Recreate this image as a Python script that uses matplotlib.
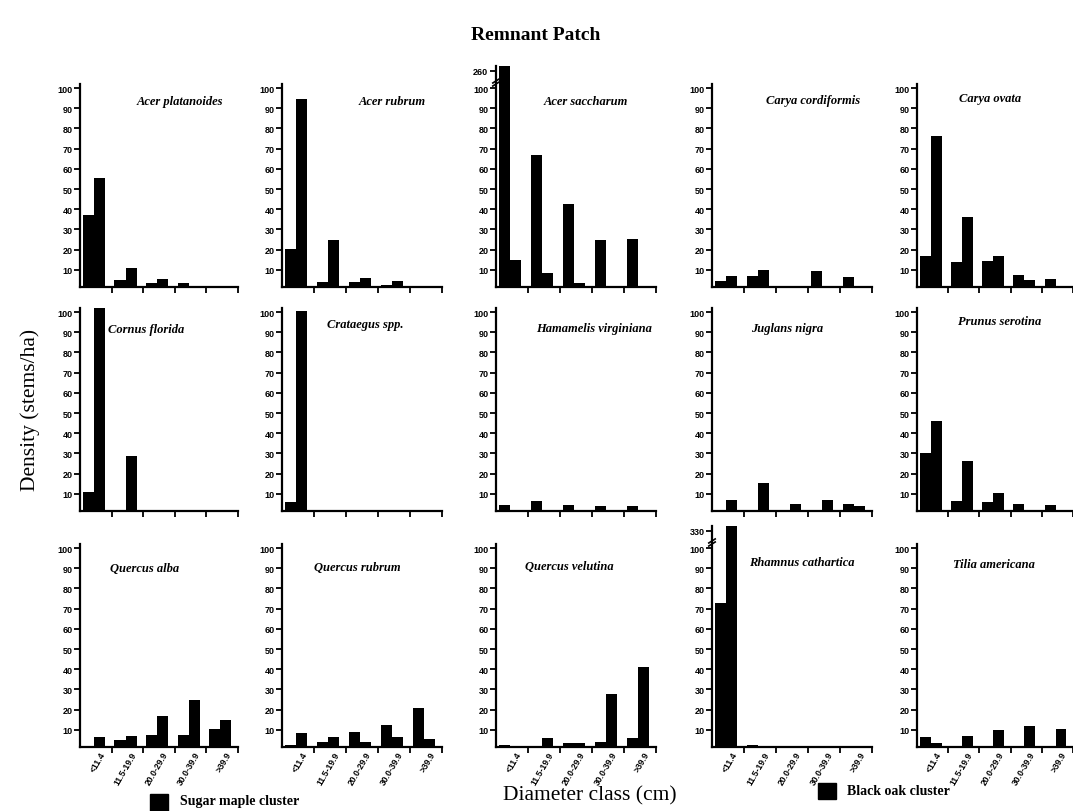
"""
Remnant Patch: stem density by diameter class for 15 species,
sugar maple cluster vs black oak cluster
"""

import numpy as np
import matplotlib
matplotlib.use('Agg')
import matplotlib.pyplot as plt
from matplotlib.patches import Rectangle
from matplotlib import transforms

plt.rcParams['font.family'] = ['Liberation Serif', 'DejaVu Serif']

classes = ['<11.4', '11.5-19.9', '20.0-29.9', '30.0-39.9', '>39.9']

species = ['Acer platanoides', 'Acer rubrum', 'Acer saccharum',
           'Carya cordiformis', 'Carya ovata',
           'Cornus florida', 'Crataegus spp.', 'Hamamelis virginiana',
           'Juglans nigra', 'Prunus serotina',
           'Quercus alba', 'Quercus rubrum', 'Quercus velutina',
           'Rhamnus cathartica', 'Tilia americana']

# stems/ha, one row per species
sugar_maple = [
    [37, 5.2, 3.6, 3.5, 2],        # Acer platanoides
    [20.3, 3.8, 3.9, 2.5, 2],      # Acer rubrum
    [260, 67, 42.8, 24.7, 25.5],   # Acer saccharum
    [4.7, 6.9, 1.8, 9.5, 6.4],     # Carya cordiformis
    [16.6, 14.1, 14.3, 7.5, 5.7],  # Carya ovata
    [10.8, 0, 0, 0, 0],            # Cornus florida
    [5.9, 0, 0, 0, 0],             # Crataegus
    [4.3, 6.6, 4.5, 3.9, 4.1],     # Hamamelis
    [1.8, 1.8, 1.8, 1.8, 5.2],     # Juglans
    [30.2, 6.3, 5.8, 5, 4.5],      # Prunus
    [1.8, 5, 7.3, 7.5, 10.2],      # Quercus alba
    [2.5, 4, 9, 12.5, 21],         # Quercus rubrum
    [2.5, 1.8, 3.5, 4, 6],         # Quercus velutina
    [73, 2.5, 1.8, 1.8, 1.8],      # Rhamnus
    [6.5, 1.8, 1.8, 1.8, 1.8],     # Tilia
]
black_oak = [
    [55.5, 11.1, 5.6, 1.8, 2],
    [94.7, 24.8, 6, 4.7, 2],
    [14.8, 8.3, 3.7, 1.8, 1.8],
    [6.9, 10, 1.8, 1.8, 1.8],
    [76.5, 36, 16.9, 5, 2],
    [102, 28.8, 1.8, 1.8, 1.8],
    [100.7, 1.8, 1.8, 1.8, 1.8],
    [1.8, 1.8, 1.8, 1.8, 1.8],
    [6.7, 15.2, 5.2, 6.8, 4.2],
    [46, 26.1, 10.5, 1.8, 1.8],
    [6.4, 6.8, 16.6, 25, 15.1],
    [8.5, 6.5, 4, 6.5, 5.5],
    [1.8, 6, 3.5, 27.5, 41],
    [330, 1.8, 1.8, 1.8, 1.8],
    [3.5, 7, 10, 12, 10.5],
]
# panels whose first bar runs off the scale
broken_top = {2: '260', 13: '330'}

# layout (pixels in a 1073x812 figure)
W, H = 1073., 812.
col_left = [80, 282, 496, 712, 917]
col_width = [158, 160, 160, 160, 156]
row_base = [288, 512, 748]
px_per_unit = 2.02
ymin, ymax, ymax_broken = 1.5, 102., 111.
# name position: (x in axes fraction, y in data units)
name_pos = [(0.63, 93.5), (0.69, 93.5), (0.56, 93.5), (0.63, 94), (0.47, 95),
            (0.42, 91.5), (0.52, 94), (0.61, 92), (0.47, 92), (0.53, 95.5),
            (0.41, 90), (0.47, 90.5), (0.46, 91), (0.56, 93), (0.49, 92)]

fig = plt.figure(figsize=(W / 100., H / 100.), dpi=100)

x = np.arange(len(classes))
bw = 0.35
for k in range(len(species)):
    r, c = divmod(k, 5)
    top = ymax_broken if k in broken_top else ymax
    h = (top - ymin) * px_per_unit
    ax = fig.add_axes([col_left[c] / W, (H - row_base[r]) / H,
                       col_width[c] / W, h / H])
    ax.bar(x + 0.09, sugar_maple[k], width=bw, align='edge',
           color='black', linewidth=0)
    ax.bar(x + 0.09 + bw, black_oak[k], width=bw, align='edge',
           color='black', linewidth=0)
    ax.set_xlim(0, 5)
    ax.set_ylim(ymin, top)
    for s in ['top', 'right']:
        ax.spines[s].set_visible(False)
    for s in ['left', 'bottom']:
        ax.spines[s].set_linewidth(1.6)
    yt = list(range(10, 101, 10))
    yl = [str(v) for v in yt]
    if k in broken_top:
        yt.append(108.5)
        yl.append(broken_top[k])
        # break mark on the axis
        ax.plot([-0.1, 0.1], [102.5, 104.5], color='black', lw=1.2,
                clip_on=False)
        ax.plot([-0.1, 0.1], [101, 103], color='black', lw=1.2,
                clip_on=False)
    ax.set_yticks(yt)
    ax.set_yticklabels(yl, fontsize=6.5, fontweight='bold',
                       family='Liberation Sans')
    ax.set_xticks(np.arange(1, 6))
    ax.set_xticklabels([])
    ax.tick_params(axis='both', direction='out', length=4, width=1.3,
                   pad=1.5)
    if r == 2:
        tr = ax.get_xaxis_transform()
        off = transforms.ScaledTranslation(0, -3 / 100., fig.dpi_scale_trans)
        for i, lab in enumerate(classes):
            ax.text(i + 0.6, 0, lab, transform=tr + off, rotation=60,
                    ha='right', va='top', rotation_mode='anchor',
                    fontsize=6.2, fontweight='bold', family='Liberation Sans')
    nx, ny = name_pos[k]
    ax.text(nx, ny, species[k], transform=ax.get_yaxis_transform(),
            ha='center', va='center', fontsize=9, fontweight='bold',
            fontstyle='italic')

fig.text(536 / W, 1 - 35 / H, 'Remnant Patch', ha='center', va='center',
         fontsize=14, fontweight='bold')
fig.text(30 / W, 1 - 410 / H, 'Density (stems/ha)', ha='center', va='center',
         rotation=90, fontsize=15.5)
fig.text(590 / W, 1 - 796 / H, 'Diameter class (cm)', ha='center',
         va='center', fontsize=15.5)

# legend keys
fig.patches.append(Rectangle((150 / W, 1 - 812 / H), 18 / W, 17 / H,
                             transform=fig.transFigure, color='black'))
fig.text(180 / W, 1 - 802 / H, 'Sugar maple cluster', ha='left',
         va='center', fontsize=10, fontweight='bold')
fig.patches.append(Rectangle((818 / W, 1 - 800 / H), 18 / W, 16 / H,
                             transform=fig.transFigure, color='black'))
fig.text(847 / W, 1 - 792 / H, 'Black oak cluster', ha='left',
         va='center', fontsize=10, fontweight='bold')

fig.savefig('out.png', dpi=100, facecolor='white')
